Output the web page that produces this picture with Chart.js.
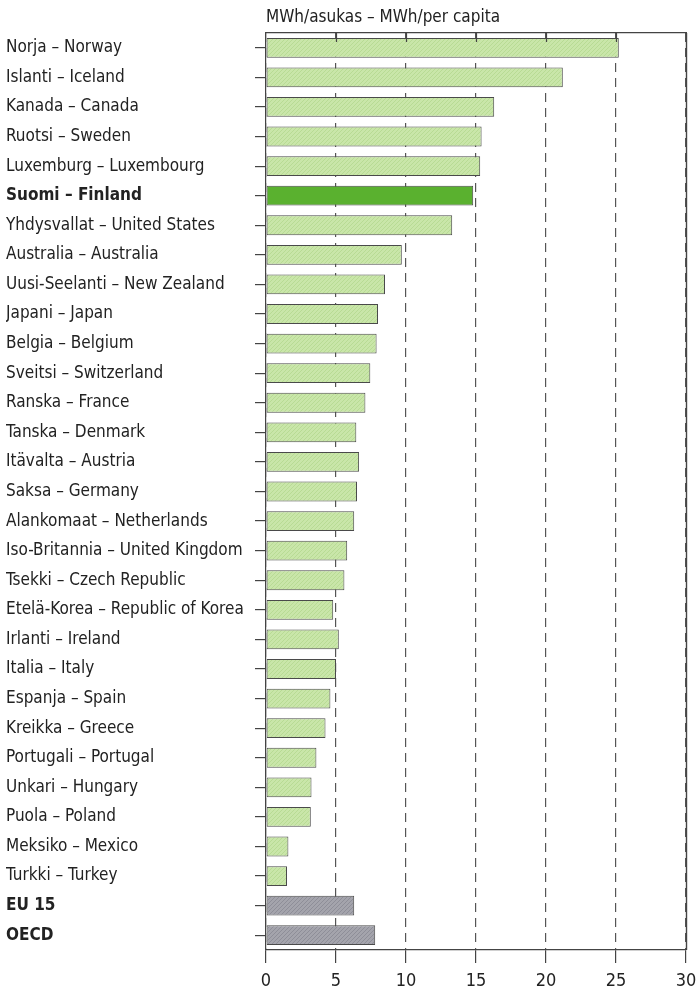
<!DOCTYPE html>
<html>
<head>
<meta charset="utf-8">
<script src="https://cdn.jsdelivr.net/npm/chart.js@4/dist/chart.umd.min.js"></script>
<style>
  html, body { margin: 0; padding: 0; background: #fff; }
  #wrap { width: 698px; height: 992px; position: relative; }
</style>
</head>
<body>
<div id="wrap"><canvas id="chart"></canvas></div>
<script>
// data
var countries = [
    "Norja – Norway", "Islanti – Iceland", "Kanada – Canada", "Ruotsi – Sweden",
    "Luxemburg – Luxembourg", "Suomi – Finland", "Yhdysvallat – United States",
    "Australia – Australia", "Uusi-Seelanti – New Zealand", "Japani – Japan",
    "Belgia – Belgium", "Sveitsi – Switzerland", "Ranska – France", "Tanska – Denmark",
    "Itävalta – Austria", "Saksa – Germany", "Alankomaat – Netherlands",
    "Iso-Britannia – United Kingdom", "Tsekki – Czech Republic",
    "Etelä-Korea – Republic of Korea", "Irlanti – Ireland", "Italia – Italy",
    "Espanja – Spain", "Kreikka – Greece", "Portugali – Portugal", "Unkari – Hungary",
    "Puola – Poland", "Meksiko – Mexico", "Turkki – Turkey", "EU 15", "OECD"
];
var mwhPerCapita = [
    25.2, 21.2, 16.3, 15.4, 15.3, 14.8, 13.3, 9.7, 8.5, 8.0,
    7.9, 7.45, 7.1, 6.45, 6.65, 6.5, 6.3, 5.8, 5.6, 4.8,
    5.2, 5.0, 4.6, 4.25, 3.6, 3.25, 3.2, 1.6, 1.5, 6.3, 7.8
];
var boldLabels = ["Suomi – Finland", "EU 15", "OECD"];
var xTicks = [0, 5, 10, 15, 20, 25, 30];
var axisTitle = "MWh/asukas – MWh/per capita";

var FONT = "'DejaVu Sans Condensed', 'Liberation Sans Narrow', sans-serif";

// hatched fill like the printed bars
function hatch(base, line) {
    var c = document.createElement('canvas');
    c.width = 4; c.height = 4;
    var g = c.getContext('2d');
    g.fillStyle = base;
    g.fillRect(0, 0, 4, 4);
    g.strokeStyle = line;
    g.lineWidth = 1;
    g.beginPath();
    g.moveTo(0, 4); g.lineTo(4, 0);
    g.stroke();
    return g.createPattern(c, 'repeat');
}
var greenFill = hatch('#c9e6a9', '#b8db94');
var finlandFill = '#5ab12f';
var greyFill = hatch('#a4a4ac', '#8e8e98');

var colours = countries.map(function (c) {
    if (c === "Suomi – Finland") return finlandFill;
    if (c === "EU 15" || c === "OECD") return greyFill;
    return greenFill;
});

// inner tick marks along the top border, plus solid right border
var frame = {
    id: 'frame',
    afterDraw: function (chart) {
        var ctx = chart.ctx, x = chart.scales.x, a = chart.chartArea;
        ctx.save();
        ctx.strokeStyle = '#444';
        ctx.lineWidth = 1.2;
        ctx.setLineDash([]);
        xTicks.forEach(function (v) {
            if (v === 0 || v === 30) return;
            var px = Math.round(x.getPixelForValue(v)) + 0.5;
            ctx.beginPath();
            ctx.moveTo(px, a.top);
            ctx.lineTo(px, a.top + 9);
            ctx.stroke();
        });
        var rx = Math.round(x.getPixelForValue(30)) + 0.5;
        ctx.lineWidth = 1.4;
        ctx.beginPath();
        ctx.moveTo(rx, a.top);
        ctx.lineTo(rx, a.bottom);
        ctx.stroke();
        ctx.restore();
    }
};

Chart.defaults.font.family = FONT;
Chart.defaults.color = '#222';

new Chart(document.getElementById('chart'), {
    type: 'bar',
    data: {
        labels: countries,
        datasets: [{
            data: mwhPerCapita,
            backgroundColor: colours,
            borderColor: '#4a4a4a',
            borderWidth: 1,
            borderSkipped: false,
            barPercentage: 0.67,
            categoryPercentage: 1.0
        }]
    },
    options: {
        indexAxis: 'y',
        responsive: true,
        maintainAspectRatio: false,
        animation: false,
        layout: { padding: { left: 6, right: 0, top: 0, bottom: 0 } },
        plugins: {
            legend: { display: false },
            tooltip: { enabled: false }
        },
        scales: {
            y: {
                grid: {
                    offset: false,
                    drawOnChartArea: false,
                    tickLength: 11,
                    color: '#444',
                    lineWidth: 1.2
                },
                border: { color: '#444', width: 1.2 },
                ticks: {
                    crossAlign: 'far',
                    padding: 0,
                    color: '#222',
                    font: function (ctx) {
                        var lbl = countries[ctx.index];
                        var bold = boldLabels.indexOf(lbl) >= 0;
                        return { family: FONT, size: 17, weight: bold ? 'bold' : 'normal' };
                    }
                },
                afterFit: function (scale) { scale.width = 260; }
            },
            x: {
                position: 'bottom',
                min: 0,
                max: 30,
                afterBuildTicks: function (scale) {
                    scale.ticks = xTicks.map(function (v) { return { value: v }; });
                },
                grid: {
                    color: '#555',
                    lineWidth: 1.2,
                    tickLength: 13,
                    tickBorderDash: [],
                    tickColor: '#444'
                },
                border: { color: '#444', width: 1.2, dash: [9, 6] },
                ticks: {
                    padding: 8,
                    color: '#222',
                    font: { family: FONT, size: 18 }
                },
                afterFit: function (scale) {
                    scale.height = 42;
                    scale.paddingRight = 12;
                }
            },
            x2: {
                position: 'top',
                min: 0,
                max: 30,
                grid: { display: false },
                border: { display: true, color: '#444', width: 1.2 },
                ticks: { display: false },
                title: {
                    display: true,
                    text: axisTitle,
                    align: 'start',
                    color: '#222',
                    font: { family: FONT, size: 17 },
                    padding: { top: 7, bottom: 2 }
                },
                afterFit: function (scale) {
                    scale.height = 33;
                    scale.paddingRight = 12;
                }
            }
        }
    },
    plugins: [frame]
});
</script>
</body>
</html>
